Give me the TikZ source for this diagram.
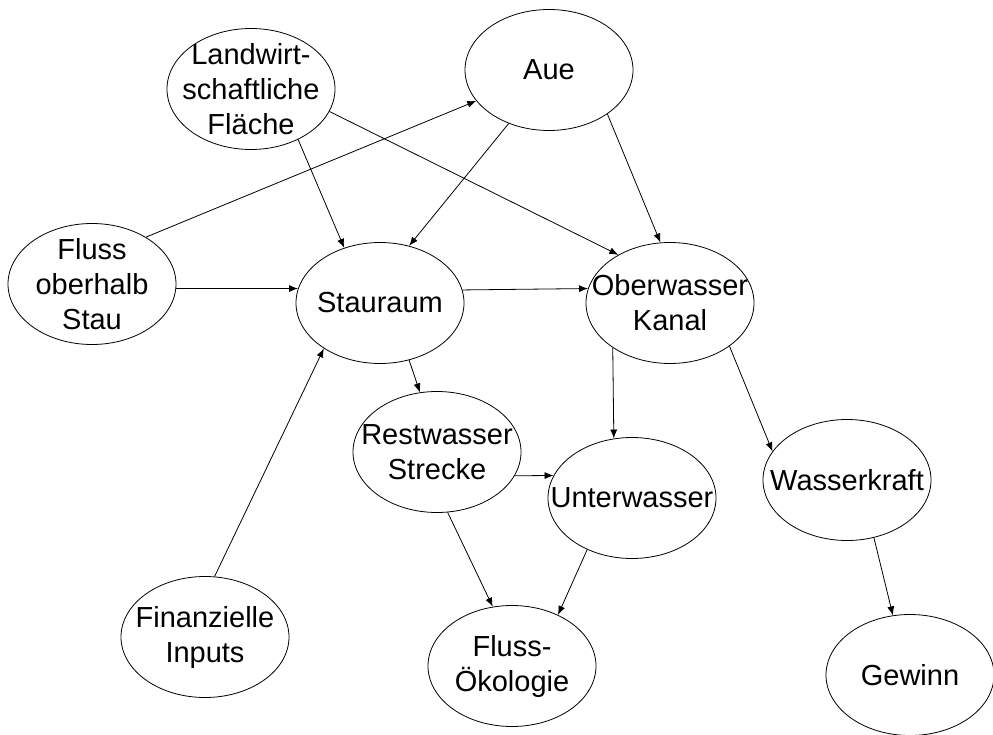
\documentclass[tikz,border=0pt]{standalone}
\usepackage{fontspec}
\setmainfont{Liberation Sans}
\usetikzlibrary{shapes.geometric,arrows.meta}

\begin{document}
\begin{tikzpicture}[x=1pt, y=-1pt,
  every node/.style={ellipse, draw, line width=0.8pt, minimum width=168pt,
    minimum height=121pt, inner xsep=-25pt, inner ysep=-10pt, align=center,
    font=\fontsize{29}{35}\selectfont},
  every path/.style={line width=0.8pt},
  pfeil/.style={-{Latex[length=9pt,width=7pt]}}]
\useasboundingbox (0, 0) rectangle (993, 735);
\node(lw) at (251, 89) {Landwirt-\\schaftliche\\Fläche};
\node(aue) at (549, 70) {Aue};
\node(fluss) at (92, 284) {Fluss\\oberhalb\\Stau};
\node(stau) at (380, 303) {Stauraum};
\node(ober) at (670, 303) {Oberwasser\\Kanal};
\node(rest) at (437, 452) {Restwasser\\Strecke};
\node(unter) at (632, 498) {Unterwasser};
\node(wk) at (847, 480) {Wasserkraft};
\node(fin) at (205, 637) {Finanzielle\\Inputs};
\node(oeko) at (512, 666) {Fluss-\\Ökologie};
\node(gew) at (910, 675) {Gewinn};
\draw[pfeil] (fluss.41) -- (aue.203.5);
\draw[pfeil] (lw.-47) -- (stau.123.4);
\draw[pfeil] (lw.-16) -- (ober.137.6);
\draw[pfeil] (aue.233) -- (stau.63.4);
\draw[pfeil] (aue.-37.7) -- (ober.99.3);
\draw[pfeil] (fluss.-3.4) -- (stau.170.3);
\draw[pfeil] (stau.9.7) -- (ober.170.3);
\draw[pfeil] (fin.81.5) -- (stau.219);
\draw[pfeil] (stau.-63.4) -- (rest.106.4);
\draw[pfeil] (ober.218.6) -- (unter.107.1);
\draw[pfeil] (ober.-36.9) -- (wk.159.4);
\draw[pfeil] (rest.-17.3) -- (unter.164.3);
\draw[pfeil] (rest.-80.7) -- (oeko.108.2);
\draw[pfeil] (unter.229) -- (oeko.48.4);
\draw[pfeil] (wk.-65) -- (gew.106.4);
\end{tikzpicture}
\end{document}
